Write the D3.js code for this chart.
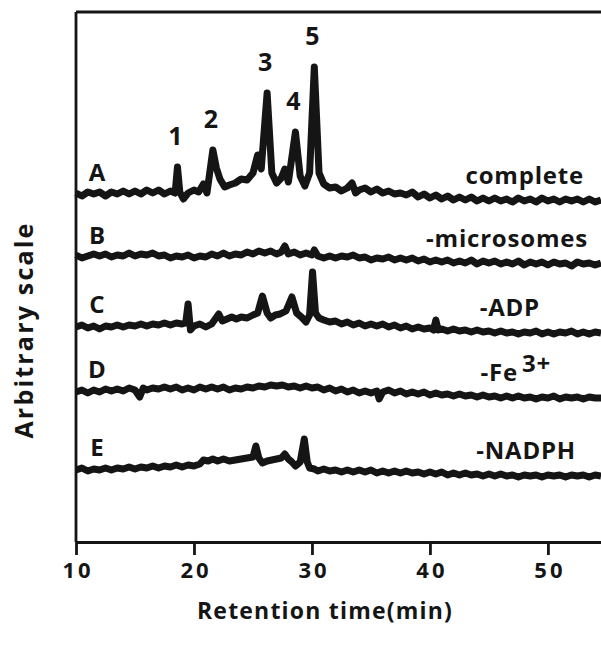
<!DOCTYPE html>
<html>
<head>
<meta charset="utf-8">
<script src="https://cdn.jsdelivr.net/npm/d3@7"></script>
<style>
  body { margin: 0; background: #fff; }
  text { font-family: "Open Sans", sans-serif; font-weight: 700; fill: #151515; }
</style>
</head>
<body>
<div id="chart"></div>
<script>
// chromatogram traces: [retention time (min), signal above the trace's own baseline]
const traceA = [[10,2],[10.5,-1],[11,3],[11.5,1],[12,3],[12.5,-1],[13,3],[13.5,1],[14,4],[14.5,1],[15,4],[15.5,1],[16,5],[16.5,2],[17,5],[17.5,1],[18,4],[18.4,2],[18.6,28],[18.8,3],[19.1,-4],[19.5,2],[20,5],[20.4,3],[20.8,11],[21.1,2],[21.6,45],[21.9,27],[22.2,16],[22.6,8],[23,10],[23.5,12],[24,16],[24.5,15],[25,22],[25.4,40],[25.7,26],[26.2,102],[26.6,22],[27,12],[27.4,17],[27.7,26],[28,13],[28.6,63],[29,19],[29.4,9],[29.8,22],[30.2,128],[30.6,22],[31,11],[31.5,7],[32,8],[32.5,4],[33,7],[33.4,12],[33.7,2],[34,5],[34.5,7],[35,3],[35.5,6],[36,2],[36.5,4],[37,1],[37.5,2],[38,0],[38.5,3],[39,-2],[39.5,1],[40,-3],[40.5,0],[41,-4],[41.5,-1],[42,-5],[42.5,-2],[43,-5],[43.5,-2],[44,-6],[44.5,-3],[45,-6],[45.5,-3],[46,-6],[46.5,-4],[47,-7],[47.5,-3],[48,-6],[48.5,-4],[49,-7],[49.5,-3],[50,-6],[50.5,-4],[51,-7],[51.5,-4],[52,-6],[52.5,-4],[53,-7],[53.5,-4],[54,-7],[54.5,-5]];
const traceB = [[10,3],[10.5,0],[11,2],[11.5,4],[12,2],[12.5,4],[13,1],[13.5,3],[14,2],[14.5,5],[15,2],[15.5,4],[16,3],[16.5,5],[17,2],[17.5,3],[18,0],[18.5,2],[19,1],[19.5,3],[20,0],[20.5,2],[21,1],[21.5,4],[22,2],[22.5,5],[23,2],[23.5,4],[24,3],[24.5,6],[25,4],[25.5,7],[26,5],[26.5,7],[27,4],[27.4,6],[27.7,12],[28,4],[28.5,6],[29,3],[29.5,5],[30,3],[30.2,8],[30.5,2],[31,0],[31.5,2],[32,0],[32.5,2],[33,1],[33.5,3],[34,0],[34.5,1],[35,-2],[35.5,0],[36,-1],[36.5,1],[37,-2],[37.5,0],[38,-2],[38.5,0],[39,-3],[39.5,-1],[40,-4],[40.5,-2],[41,-4],[41.5,-2],[42,-5],[42.5,-3],[43,-5],[43.5,-2],[44,-6],[44.5,-3],[45,-5],[45.5,-3],[46,-6],[46.5,-4],[47,-6],[47.5,-3],[48,-7],[48.5,-4],[49,-6],[49.5,-4],[50,-7],[50.5,-4],[51,-6],[51.5,-5],[52,-8],[52.5,-4],[53,-6],[53.5,-5],[54,-7],[54.5,-5]];
const traceC = [[10,0],[10.5,2],[11,-1],[11.5,1],[12,-2],[12.5,1],[13,0],[13.5,2],[14,0],[14.5,2],[15,1],[15.5,3],[16,1],[16.5,3],[17,2],[17.5,4],[18,2],[18.5,4],[19,3],[19.3,4],[19.5,23],[19.7,-3],[20,1],[20.5,3],[21,0],[21.5,3],[21.8,8],[22.1,13],[22.4,6],[22.8,8],[23.2,10],[23.6,8],[24,10],[24.5,9],[25,12],[25.4,14],[25.8,31],[26.2,14],[26.5,9],[26.9,12],[27.3,13],[27.8,16],[28.3,30],[28.7,14],[29.1,10],[29.5,5],[29.8,12],[30.05,55],[30.3,14],[30.6,9],[31,7],[31.5,5],[32,6],[32.5,3],[33,5],[33.5,2],[34,4],[34.5,1],[35,3],[35.5,1],[36,3],[36.5,0],[37,2],[37.5,-1],[38,1],[38.5,-2],[39,0],[39.5,-2],[40,-1],[40.3,-3],[40.5,7],[40.7,-3],[41,-2],[41.5,-4],[42,-2],[42.5,-4],[43,-3],[43.5,-5],[44,-3],[44.5,-5],[45,-4],[45.5,-6],[46,-4],[46.5,-6],[47,-5],[47.5,-7],[48,-5],[48.5,-6],[49,-4],[49.5,-7],[50,-5],[50.5,-7],[51,-5],[51.5,-6],[52,-4],[52.5,-7],[53,-5],[53.5,-7],[54,-5],[54.5,-6]];
const traceD = [[10,0],[10.5,2],[11,-1],[11.5,2],[12,0],[12.5,3],[13,1],[13.5,3],[14,1],[14.5,4],[15,2],[15.4,-5],[15.7,4],[16,2],[16.5,4],[17,3],[17.5,5],[18,3],[18.5,5],[19,2],[19.5,4],[20,2],[20.5,5],[21,3],[21.5,5],[22,3],[22.5,5],[23,2],[23.5,4],[24,3],[24.5,5],[25,4],[25.5,6],[26,5],[26.5,7],[27,6],[27.5,7],[28,5],[28.5,6],[29,4],[29.5,6],[30,4],[30.5,5],[31,2],[31.5,4],[32,1],[32.5,3],[33,0],[33.5,2],[34,-1],[34.5,1],[35,-1],[35.5,1],[35.7,-7],[36,0],[36.5,2],[37,-1],[37.5,1],[38,-2],[38.5,0],[39,-2],[39.5,0],[40,-3],[40.5,-1],[41,-3],[41.5,-2],[42,-4],[42.5,-2],[43,-4],[43.5,-3],[44,-5],[44.5,-3],[45,-5],[45.5,-4],[46,-6],[46.5,-4],[47,-6],[47.5,-4],[48,-6],[48.5,-5],[49,-7],[49.5,-5],[50,-6],[50.5,-4],[51,-7],[51.5,-5],[52,-6],[52.5,-5],[53,-7],[53.5,-5],[54,-6],[54.5,-6]];
const traceE = [[10,0],[10.5,2],[11,-1],[11.5,1],[12,0],[12.5,2],[13,0],[13.5,2],[14,1],[14.5,3],[15,1],[15.5,3],[16,2],[16.5,4],[17,2],[17.5,4],[18,3],[18.5,5],[19,3],[19.5,5],[20,4],[20.5,6],[20.8,10],[21.2,9],[21.6,11],[22,9],[22.5,11],[23,9],[23.5,10],[24,11],[24.5,12],[25,13],[25.25,24],[25.5,12],[25.8,7],[26.2,9],[26.6,10],[27,11],[27.4,12],[27.7,16],[28,11],[28.3,8],[28.6,4],[29,8],[29.35,31],[29.6,8],[29.8,2],[30.2,1],[30.5,-1],[31,1],[31.5,-1],[32,0],[32.5,-2],[33,0],[33.5,-2],[34,0],[34.5,-2],[35,0],[35.5,-3],[36,-1],[36.5,-3],[37,-1],[37.5,-3],[38,-1],[38.5,-3],[39,-2],[39.5,-4],[40,-2],[40.5,-4],[41,-2],[41.5,-5],[42,-3],[42.5,-5],[43,-3],[43.5,-5],[44,-4],[44.5,-6],[45,-4],[45.5,-6],[46,-4],[46.5,-6],[47,-5],[47.5,-7],[48,-5],[48.5,-6],[49,-5],[49.5,-7],[50,-5],[50.5,-6],[51,-5],[51.5,-7],[52,-5],[52.5,-6],[53,-5],[53.5,-7],[54,-5],[54.5,-6]];

const traceLetters = ["A", "B", "C", "D", "E"];
const conditions = ["complete", "-microsomes", "-ADP", "-Fe", "-NADPH"];
const baselines = [347, 284, 215, 150, 72];   // arbitrary-scale offset of each trace
const peakNames = ["1", "2", "3", "4", "5"];
const peakTimes = [18.6, 21.6, 26.2, 28.6, 30.2];
const xTicks = [10, 20, 30, 40, 50];

const traces = [traceA, traceB, traceC, traceD, traceE];

// layout: right edge of each condition label
const labelRight = [584, 588, 540, 551, 576];

const width = 601, height = 655;
const inkColor = "#151515";

const svg = d3.select("#chart")
    .append("svg")
    .attr("width", width)
    .attr("height", height);

const xScale = d3.scaleLinear().domain([10, 54.5]).range([76, 601]);
const yScale = d3.scaleLinear().domain([0, 530]).range([542, 12]);

// frame: top rule and left axis
svg.append("line")
    .attr("x1", xScale(10)).attr("x2", xScale(54.5))
    .attr("y1", yScale(530)).attr("y2", yScale(530))
    .attr("stroke", inkColor).attr("stroke-width", 2.8);

svg.append("line")
    .attr("x1", xScale(10)).attr("x2", xScale(10))
    .attr("y1", yScale(530)).attr("y2", yScale(0))
    .attr("stroke", inkColor).attr("stroke-width", 2.8);

// bottom axis
const xAxis = svg.append("g")
    .attr("transform", `translate(0, ${yScale(0)})`)
    .call(d3.axisBottom(xScale).tickValues(xTicks).tickSize(13).tickSizeOuter(0).tickPadding(7));

xAxis.select(".domain").attr("stroke", inkColor).attr("stroke-width", 2.8);
xAxis.selectAll(".tick line").attr("stroke", inkColor).attr("stroke-width", 2.8);
xAxis.selectAll(".tick text")
    .attr("fill", inkColor)
    .attr("dx", "1.5px")
    .style("font-family", "'Open Sans', sans-serif")
    .style("font-weight", 700)
    .style("font-size", "22px")
    .style("letter-spacing", "3px");

// axis titles
svg.append("text")
    .attr("x", 325)
    .attr("y", 619)
    .attr("text-anchor", "middle")
    .style("font-size", "23px")
    .style("letter-spacing", "1.2px")
    .text("Retention time(min)");

svg.append("text")
    .attr("transform", "translate(33, 330) rotate(-90)")
    .attr("text-anchor", "middle")
    .style("font-size", "25px")
    .style("letter-spacing", "2.2px")
    .text("Arbitrary scale");

// traces
const line = d3.line()
    .x(d => xScale(d[0]))
    .y(d => d[1]);

svg.append("g")
    .selectAll("path")
    .data(traces)
    .join("path")
    .attr("d", (d, i) => line(d.map(p => [p[0], yScale(baselines[i] + p[1])])))
    .attr("fill", "none")
    .attr("stroke", inkColor)
    .attr("stroke-width", 7)
    .attr("stroke-linejoin", "round")
    .attr("stroke-linecap", "butt");

// trace letters on the left
svg.append("g")
    .selectAll("text")
    .data(traceLetters)
    .join("text")
    .attr("x", 97)
    .attr("y", (d, i) => yScale(baselines[i]) - 14)
    .attr("text-anchor", "middle")
    .style("font-size", "24px")
    .text(d => d);

// condition labels on the right
const condLabels = svg.append("g")
    .selectAll("text")
    .data(conditions)
    .join("text")
    .attr("x", (d, i) => labelRight[i])
    .attr("y", (d, i) => yScale(baselines[i]) - 11)
    .attr("text-anchor", "end")
    .style("font-size", "24px")
    .style("letter-spacing", "0.8px");

condLabels.append("tspan").text(d => d);
condLabels.filter(d => d === "-Fe")
    .append("tspan")
    .attr("dx", 4)
    .attr("dy", -9)
    .text("3+");

// peak numbers over trace A
svg.append("g")
    .selectAll("text")
    .data(peakNames)
    .join("text")
    .attr("x", (d, i) => xScale(peakTimes[i]) - 2)
    .attr("y", (d, i) => {
        const top = d3.max(traceA.filter(p => Math.abs(p[0] - peakTimes[i]) < 0.05), p => p[1]);
        return yScale(baselines[0] + top) - 22;
    })
    .attr("text-anchor", "middle")
    .style("font-size", "25px")
    .text(d => d);
</script>
</body>
</html>
